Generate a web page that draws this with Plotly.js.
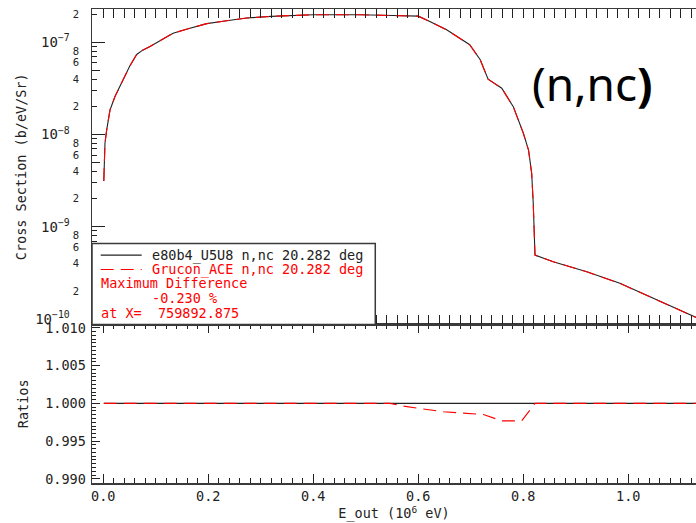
<!DOCTYPE html>
<html><head><meta charset="utf-8">
<script src="https://cdn.plot.ly/plotly-3.0.1.min.js"></script>
<style>html,body{margin:0;padding:0;background:#fff;overflow:hidden}</style>
</head><body><div id="chart" style="width:696px;height:523px"></div>
<script>
// Outgoing energy (10^6 eV) and double-differential cross sections (b/eV/Sr)
const energies = [0.001, 0.002, 0.0032, 0.0065, 0.0128, 0.0223, 0.03, 0.038, 0.05, 0.0636, 0.075, 0.089, 0.108, 0.133, 0.16, 0.197, 0.235, 0.273, 0.32, 0.362, 0.4, 0.45, 0.489, 0.552, 0.6, 0.622, 0.654, 0.698, 0.718, 0.733, 0.759, 0.781, 0.8, 0.81, 0.816, 0.819, 0.8223, 0.857, 0.921, 0.984, 1.035, 1.086, 1.13];
const xsRef = [3.14e-9, 5.3e-9, 8.07e-9, 1.125e-8, 1.85e-8, 2.59e-8, 3.22e-8, 3.94e-8, 5.48e-8, 7.4e-8, 8.25e-8, 9.05e-8, 1.05e-7, 1.26e-7, 1.40e-7, 1.60e-7, 1.72e-7, 1.84e-7, 1.92e-7, 1.96e-7, 2.0e-7, 2.0e-7, 2.0e-7, 1.96e-7, 1.93e-7, 1.69e-7, 1.37e-7, 9.44e-8, 6.49e-8, 4.0e-8, 3.19e-8, 2.01e-8, 1.04e-8, 6.8e-9, 3.8e-9, 1.79e-9, 4.92e-10, 4.17e-10, 3.24e-10, 2.43e-10, 1.81e-10, 1.35e-10, 1.03e-10];
const xsAce = [3.14e-9, 5.3e-9, 8.07e-9, 1.125e-8, 1.85e-8, 2.59e-8, 3.22e-8, 3.94e-8, 5.48e-8, 7.4e-8, 8.25e-8, 9.05e-8, 1.05e-7, 1.26e-7, 1.40e-7, 1.60e-7, 1.72e-7, 1.84e-7, 1.92e-7, 1.96e-7, 2.0e-7, 2.0e-7, 2.0e-7, 1.9594e-7, 1.9284e-7, 1.6882e-7, 1.3685e-7, 9.428e-8, 6.482e-8, 3.993e-8, 3.183e-8, 2.0055e-8, 1.0376e-8, 6.787e-9, 3.795e-9, 1.788e-9, 4.92e-10, 4.17e-10, 3.24e-10, 2.43e-10, 1.81e-10, 1.35e-10, 1.03e-10];

// Ratio panel
const ratioRefE = [0.001, 1.13];
const ratioRef = [1.0, 1.0];
const ratioAceE = [0.001, 0.546, 0.571, 0.648, 0.724, 0.737, 0.759, 0.797, 0.8223, 1.13];
const ratioAce = [1.0, 1.0, 0.99964, 0.99888, 0.99853, 0.99821, 0.99768, 0.99768, 1.0, 1.0];

// Text
const refName = 'e80b4_U5U8 n,nc 20.282 deg';
const aceName = 'Grucon_ACE n,nc 20.282 deg';
const diffTitle = 'Maximum Difference';
const diffValue = '-0.230 %';
const diffAt = 'at X=\u00a0\u00a0759892.875';
const reactionLabel = '(n,nc<b>)</b>';

// Tick labels
const decadeVals = [1e-10, 1e-9, 1e-8, 1e-7];
const decadeText = ['10<sup>\u221210</sup>', '10<sup>\u22129</sup>', '10<sup>\u22128</sup>', '10<sup>\u22127</sup>'];
const digitMantissas = [2, 4, 6, 8];
const digitExps = [-10, -9, -8, -7];

const digitVals = [], digitText = [], minorVals = [], fiveVals = [];
digitExps.forEach(e => {
  digitMantissas.forEach(m => { const v = m * Math.pow(10, e); if (v < 2.3e-7) { digitVals.push(v); digitText.push(String(m)); } });
  for (let m = 2; m <= 9; m++) { const v = m * Math.pow(10, e); if (v < 2.3e-7) minorVals.push(v); }
  fiveVals.push(5 * Math.pow(10, e));
});

const mono = 'DejaVu Sans Mono';
const red = '#ff0000';
const ink = '#222222';
const frame = '#3a3a3a';
const dashPat = '13px,7px';
const logRange = [-10.061, -6.637];

const traces = [
  {x: energies, y: xsRef, xaxis: 'x2', yaxis: 'y2', mode: 'lines', name: refName, line: {color: ink, width: 1.1}},
  {x: energies, y: xsAce, xaxis: 'x2', yaxis: 'y2', mode: 'lines', name: aceName, line: {color: red, width: 1.1, dash: dashPat}},
  {x: energies, y: xsRef, xaxis: 'x2', yaxis: 'y3', mode: 'lines', name: refName, opacity: 0, hoverinfo: 'skip', line: {width: 0}},
  {x: ratioRefE, y: ratioRef, xaxis: 'x', yaxis: 'y', mode: 'lines', name: refName, line: {color: ink, width: 1.1}},
  {x: ratioAceE, y: ratioAce, xaxis: 'x', yaxis: 'y', mode: 'lines', name: aceName, line: {color: red, width: 1.1, dash: dashPat}}
];

const split = 0.3344;
const xCommon = {
  range: [-0.0215, 1.129], dtick: 0.2, tick0: 0, tickformat: '.1f',
  ticks: 'inside', ticklen: 9, tickwidth: 1, tickcolor: ink,
  showline: true, linecolor: frame, linewidth: 1.5, mirror: 'allticks',
  minor: {dtick: 0.02, tick0: 0, ticks: 'inside', ticklen: 5, tickwidth: 1, tickcolor: ink},
  showgrid: false, zeroline: false
};

const layout = {
  width: 696, height: 523,
  margin: {l: 92, r: 0, t: 9, b: 40.3, pad: 0},
  paper_bgcolor: '#ffffff', plot_bgcolor: '#ffffff',
  showlegend: false,
  font: {family: mono, size: 13.5, color: ink},
  xaxis: Object.assign({}, xCommon, {
    anchor: 'y', domain: [0, 1],
    tickfont: {family: mono, size: 13.5, color: ink},
    title: {text: 'E_out (10<sup>6</sup> eV)', font: {family: mono, size: 13.5, color: ink}, standoff: 2}
  }),
  xaxis2: Object.assign({}, xCommon, {anchor: 'y2', matches: 'x', showticklabels: false}),
  yaxis: {
    anchor: 'x', domain: [0, split], range: [0.98945, 1.01045],
    dtick: 0.005, tick0: 1, tickformat: '.3f',
    ticks: 'inside', ticklen: 8, tickwidth: 1, tickcolor: ink,
    minor: {dtick: 0.0005, tick0: 1, ticks: 'inside', ticklen: 4, tickwidth: 1, tickcolor: ink},
    showline: true, linecolor: frame, linewidth: 1.5, mirror: false,
    showgrid: false, zeroline: false, ticklabelstandoff: 2,
    tickfont: {family: mono, size: 13.5, color: ink},
    title: {text: 'Ratios', font: {family: mono, size: 13.5, color: ink}, standoff: 13}
  },
  yaxis2: {
    anchor: 'x2', domain: [split, 1], type: 'log', range: logRange,
    tickmode: 'array', tickvals: decadeVals, ticktext: decadeText,
    ticks: 'inside', ticklen: 13, tickwidth: 1, tickcolor: ink,
    minor: {tickmode: 'array', tickvals: minorVals, ticks: 'inside', ticklen: 5, tickwidth: 1, tickcolor: ink},
    showline: true, linecolor: frame, linewidth: 1.5, mirror: false,
    showgrid: false, zeroline: false, ticklabelstandoff: 18,
    tickfont: {family: mono, size: 14, color: ink},
    title: {text: 'Cross Section (b/eV/Sr)', font: {family: mono, size: 13.5, color: ink}, standoff: 5}
  },
  yaxis3: {
    anchor: 'x2', overlaying: 'y2', type: 'log', range: logRange,
    tickmode: 'array', tickvals: digitVals, ticktext: digitText,
    ticks: '', showline: false, showgrid: false, zeroline: false,
    minor: {tickmode: 'array', tickvals: fiveVals, ticks: 'inside', ticklen: 8, tickwidth: 1, tickcolor: ink},
    ticklabelstandoff: 12,
    tickfont: {family: 'DejaVu Sans', size: 10, color: ink}
  },
  shapes: [
    {type: 'rect', xref: 'paper', yref: 'paper', x0: 0.0, x1: 0.469, y0: split, y1: 0.5054,
     line: {color: frame, width: 1.5}, fillcolor: '#ffffff', layer: 'above'},
    {type: 'line', xref: 'paper', yref: 'paper', x0: 0.0144, x1: 0.0823, y0: 0.4807, y1: 0.4807,
     line: {color: ink, width: 1.1}, layer: 'above'},
    {type: 'line', xref: 'paper', yref: 'paper', x0: 0.0144, x1: 0.0823, y0: 0.4505, y1: 0.4505,
     line: {color: red, width: 1.1, dash: dashPat}, layer: 'above'}
  ],
  annotations: [
    {xref: 'paper', yref: 'paper', x: 0.0952, y: 0.4807, xanchor: 'left', yanchor: 'middle', showarrow: false,
     text: refName, font: {family: mono, size: 13.5, color: ink}},
    {xref: 'paper', yref: 'paper', x: 0.0952, y: 0.4505, xanchor: 'left', yanchor: 'middle', showarrow: false,
     text: aceName, font: {family: mono, size: 13.5, color: red}},
    {xref: 'paper', yref: 'paper', x: 0.0124, y: 0.4209, xanchor: 'left', yanchor: 'middle', showarrow: false,
     text: diffTitle, font: {family: mono, size: 13.5, color: red}},
    {xref: 'paper', yref: 'paper', x: 0.0952, y: 0.3893, xanchor: 'left', yanchor: 'middle', showarrow: false,
     text: diffValue, font: {family: mono, size: 13.5, color: red}},
    {xref: 'paper', yref: 'paper', x: 0.0124, y: 0.3589, xanchor: 'left', yanchor: 'middle', showarrow: false,
     text: diffAt, font: {family: mono, size: 13.5, color: red}},
    {xref: 'paper', yref: 'paper', x: 0.8287, y: 0.8448, xanchor: 'center', yanchor: 'middle', showarrow: false,
     text: reactionLabel, font: {family: 'Noto Sans', size: 46, color: '#000000'}}
  ]
};

Plotly.newPlot('chart', traces, layout, {staticPlot: true, displayModeBar: false});
</script>
</body></html>
